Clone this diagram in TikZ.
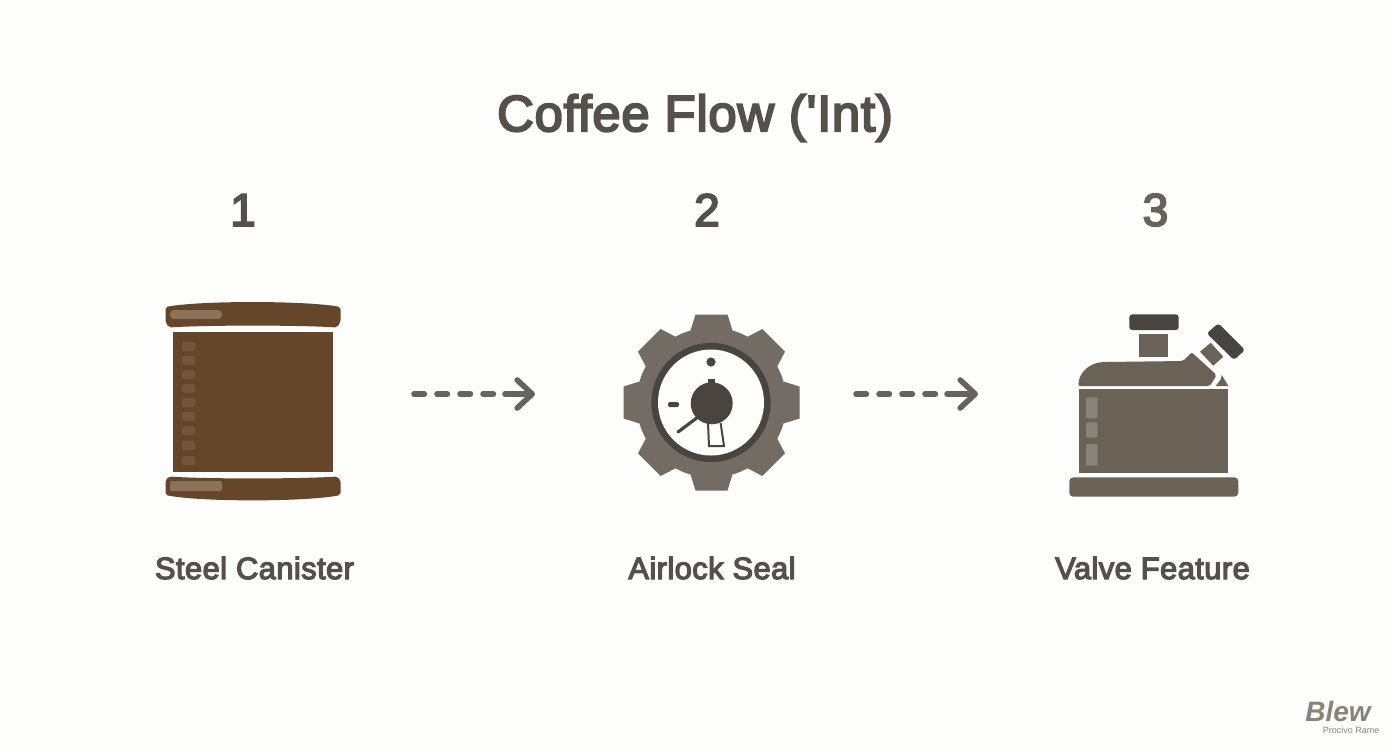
\documentclass[tikz,border=0pt]{standalone}
\usepackage{fontspec}
\setmainfont{Liberation Sans}
\newfontfamily\moyen{Liberation Sans}[FakeBold=4,LetterSpace=1.5]
\usetikzlibrary{arrows.meta}
\definecolor{papier}{HTML}{FDFDFC}
\definecolor{encre}{HTML}{55504C}
\definecolor{brun}{HTML}{65462B}
\definecolor{brunclair}{HTML}{8A7358}
\definecolor{brunmarque}{HTML}{735539}
\definecolor{gris}{HTML}{736C64}
\definecolor{grisfonce}{HTML}{4A4440}
\definecolor{grisvalve}{HTML}{6A6257}
\definecolor{grisclair}{HTML}{8A837A}
\definecolor{fleche}{HTML}{666260}
\begin{document}
\begin{tikzpicture}[x=0.5pt,y=-0.5pt]
\tikzset{titre/.style={text=encre, font=\moyen\fontsize{25.4}{30}\selectfont},
  numero/.style={text=encre, font=\moyen\fontsize{23}{26}\selectfont},
  legende/.style={text=encre, font=\moyen\fontsize{15.4}{18}\selectfont},
  pointille/.style={draw=fleche, line width=2.8pt, line cap=round, dash pattern=on 5.2pt off 6.3pt},
  pointe/.style={draw=fleche, line width=2.8pt, line cap=round, -{Straight Barb[length=7.5pt,width=14pt,round]}}}
\useasboundingbox (0,0) rectangle (1392,752);
\fill[papier] (0,0) rectangle (1392,752);
\node[titre] (T) at (695,118) {Coffee Flow ('Int)};
\node[numero] (N1) at (243,210) {1};
\node[numero] (N2) at (707,210) {2};
\node[numero, text=grisvalve] (N3) at (1155.5,210) {3};
\node[legende] (L1) at (254.5,568) {Steel Canister};
\node[legende] (L2) at (712,568) {Airlock Seal};
\node[legende] (L3) at (1152.5,568) {Valve Feature};
% canister
\fill[brun, rounded corners=1pt] (165.5,307) .. controls (200,300.5) and (305,300.5) .. (340.5,307) -- (340.5,322) -- (337,327.5) .. controls (300,325) and (205,325) .. (169,327.5) -- (165.5,322) -- cycle;
\fill[brun] (173,332) rectangle (333,472);
\fill[brun, rounded corners=1pt] (165.5,480) -- (169,476.5) .. controls (205,479) and (300,479) .. (337,476.5) -- (340.5,480) -- (340.5,495) .. controls (305,502) and (200,502) .. (165.5,495) -- cycle;
\fill[brunclair, rounded corners=2pt] (170,310) rectangle (222,319);
\fill[brunclair, rounded corners=1pt] (170,481) rectangle (222,491);
\foreach \y in {342,356,370,384,398,412,426,441,456}
  \fill[brunmarque, rounded corners=1pt] (182,\y) rectangle (195,\y+9);
% gear
\fill[gris] (711.5,402.5) circle (37.5pt);
\foreach \a in {0,45,...,315}
  \fill[gris, shift={(711.5,402.5)}, rotate=\a] (-21,-72) -- (-16,-88) -- (16,-88) -- (21,-72) -- cycle;
\fill[grisfonce] (711,402.5) circle (29.8pt);
\fill[papier] (711,402.5) circle (26.5pt);
\fill[grisfonce] (711.7,403.3) circle (10.5pt);
\fill[grisfonce] (707.7,379) rectangle (715,385);
\fill[grisfonce] (711,362) circle (2.3pt);
\fill[grisfonce, rounded corners=1pt] (668,402) rectangle (679,407);
\draw[grisfonce, line width=1.6pt, line cap=round] (696.7,418) -- (678,432);
\draw[grisfonce, line width=1pt] (708,423) -- (709,446) -- (724,446) -- (720.6,423);
% kettle
\fill[grisfonce, rounded corners=1.5pt] (1129.3,314.3) rectangle (1178.7,330);
\fill[grisvalve] (1139.3,333.7) rectangle (1167.7,357.3);
\fill[grisvalve, rounded corners=1pt] (1078.3,386) .. controls (1079,372) and (1090,362.5) .. (1105,362) -- (1183,361) -- (1191.7,352.3) -- (1216.7,375) -- (1210,386) -- cycle;
\fill[grisvalve] (1221.7,375) -- (1228.3,386) -- (1215.7,386) -- (1220.7,379.3) -- cycle;
\fill[grisvalve] (1200,351.7) -- (1210.7,342.7) -- (1223.3,356.7) -- (1213.3,365.7) -- cycle;
\fill[grisfonce, rounded corners=1.5pt] (1206.7,333.3) -- (1218.3,323.3) -- (1245,350) -- (1234,360) -- cycle;
\fill[grisvalve] (1078.7,389.3) rectangle (1228.3,473.3);
\fill[grisclair, rounded corners=1pt] (1086,397.3) rectangle (1097.7,418.3);
\fill[grisclair, rounded corners=1pt] (1086,422.3) rectangle (1097.7,437.7);
\fill[grisclair, rounded corners=1pt] (1086,444) rectangle (1097.7,465.7);
\fill[grisvalve, rounded corners=2pt] (1069.3,477.3) rectangle (1238.3,496.7);
% arrows
\coordinate (A1) at (414,394);
\coordinate (B1) at (505,394);
\coordinate (C1) at (535,394);
\coordinate (A2) at (856,394);
\coordinate (B2) at (947,394);
\coordinate (C2) at (978,394);
\draw[pointille] (A1) -- (B1);
\draw[pointe] (B1) -- (C1);
\draw[pointille] (A2) -- (B2);
\draw[pointe] (B2) -- (C2);
% mark
\node[text=grisclair, font=\bfseries\itshape\fontsize{14}{14}\selectfont, inner sep=0pt] (M) at (1338,711) {Blew};
\node[text=grisclair, font=\fontsize{4.5}{4.5}\selectfont, inner sep=0pt] (M2) at (1351,730) {Procivo Rame};
\end{tikzpicture}
\end{document}
